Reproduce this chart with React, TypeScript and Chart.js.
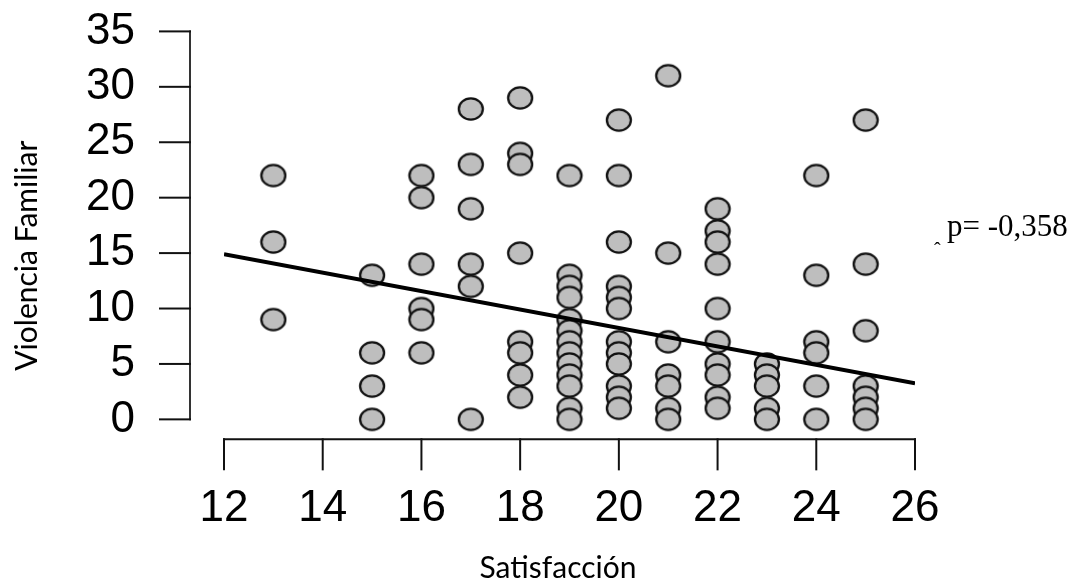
import React, { useEffect, useRef } from 'react';
import { Chart, registerables } from 'chart.js';

Chart.register(...registerables);

// Satisfacción (x) columns and the Violencia Familiar values in each column
const satisfaccion = [13, 15, 16, 17, 18, 19, 20, 21, 22, 23, 24, 25];
const violencia13 = [22, 16, 9];
const violencia15 = [13, 6, 3, 0];
const violencia16 = [22, 20, 14, 10, 9, 6];
const violencia17 = [28, 23, 19, 14, 12, 0];
const violencia18 = [29, 24, 23, 15, 7, 6, 4, 2];
const violencia19 = [22, 13, 12, 11, 9, 8, 7, 6, 5, 4, 3, 1, 0];
const violencia20 = [27, 22, 16, 12, 11, 10, 7, 6, 5, 3, 2, 1];
const violencia21 = [31, 15, 7, 4, 3, 1, 0];
const violencia22 = [19, 17, 16, 14, 10, 7, 5, 4, 2, 1];
const violencia23 = [5, 4, 3, 1, 0];
const violencia24 = [22, 13, 7, 6, 3, 0];
const violencia25 = [27, 14, 8, 3, 2, 1, 0];
const violencia = [
  violencia13, violencia15, violencia16, violencia17, violencia18, violencia19,
  violencia20, violencia21, violencia22, violencia23, violencia24, violencia25,
];

// Regression line end points
const fitX = [12, 26];
const fitY = [14.9, 3.25];

// Axis ticks
const xTicks = [12, 14, 16, 18, 20, 22, 24, 26];
const yTicks = [0, 5, 10, 15, 20, 25, 30, 35];

const xTitle = 'Satisfacción';
const yTitle = 'Violencia Familiar';
const annotation = 'p= -0,358';
const annotationMark = 'ˆ';

export default function App() {
  const ref = useRef<HTMLCanvasElement>(null);

  useEffect(() => {
    document.body.style.margin = '0';
    const canvas = ref.current;
    if (!canvas) return;

    const dot = document.createElement('canvas');
    dot.width = 28;
    dot.height = 26;
    const g = dot.getContext('2d')!;
    g.beginPath();
    g.ellipse(14, 13, 12, 10.6, 0, 0, Math.PI * 2);
    g.fillStyle = '#BEBEBE';
    g.fill();
    g.lineWidth = 2.3;
    g.strokeStyle = '#111';
    g.stroke();

    const points = satisfaccion.flatMap((x, i) => violencia[i].map((y) => ({ x, y })));
    const fitLine = fitX.map((x, i) => ({ x, y: fitY[i] }));

    const rAxes = {
      id: 'rAxes',
      afterDraw(chart: any) {
        const { ctx, chartArea } = chart;
        const xs = chart.scales.x;
        const ys = chart.scales.y;
        const y0 = ys.getPixelForValue(yTicks[0]);
        const yTop = ys.getPixelForValue(yTicks[yTicks.length - 1]);
        const axisX = xs.getPixelForValue(xTicks[0]) - 34;
        const axisY = y0 + 20;
        ctx.save();
        ctx.lineCap = 'square';
        ctx.strokeStyle = '#333';
        ctx.lineWidth = 2;
        ctx.beginPath();
        ctx.moveTo(axisX, y0);
        ctx.lineTo(axisX, yTop);
        ctx.stroke();
        ctx.strokeStyle = '#111';
        yTicks.forEach((v) => {
          const py = ys.getPixelForValue(v);
          ctx.beginPath();
          ctx.moveTo(axisX - 30, py);
          ctx.lineTo(axisX, py);
          ctx.stroke();
        });
        ctx.beginPath();
        ctx.moveTo(xs.getPixelForValue(xTicks[0]), axisY);
        ctx.lineTo(xs.getPixelForValue(xTicks[xTicks.length - 1]), axisY);
        ctx.stroke();
        xTicks.forEach((v) => {
          const px = xs.getPixelForValue(v);
          ctx.beginPath();
          ctx.moveTo(px, axisY);
          ctx.lineTo(px, axisY + 30);
          ctx.stroke();
        });
        ctx.fillStyle = '#000';
        // x-axis title, centred on the full plot region as in the source
        ctx.textAlign = 'center';
        ctx.textBaseline = 'alphabetic';
        ctx.font = '30px Lato, sans-serif';
        ctx.fillText(xTitle, chartArea.left + 334, 578);
        // annotation
        ctx.textAlign = 'left';
        ctx.font = '31px "Liberation Serif", "Times New Roman", serif';
        ctx.fillText(annotation, chartArea.right + 32, 236);
        ctx.font = '20px "Liberation Serif", "Times New Roman", serif';
        ctx.fillText(annotationMark, chartArea.right + 19, 257);
        ctx.restore();
      },
    };

    const chart = new Chart(canvas, {
      type: 'scatter',
      data: {
        datasets: [
          {
            type: 'line',
            data: fitLine,
            borderColor: '#000',
            borderWidth: 4,
            pointRadius: 0,
            fill: false,
            order: 1,
          } as any,
          {
            type: 'scatter',
            data: points,
            pointStyle: dot as any,
            pointRadius: 13,
            order: 2,
          },
        ],
      },
      options: {
        responsive: false,
        animation: false,
        events: [],
        layout: { padding: { left: 0, top: 31, right: 169, bottom: 0 } },
        plugins: { legend: { display: false }, tooltip: { enabled: false } },
        scales: {
          x: {
            type: 'linear',
            min: 12,
            max: 26,
            afterBuildTicks: (s: any) => {
              s.ticks = xTicks.map((value) => ({ value }));
            },
            afterFit: (s: any) => {
              s.height = 105;
            },
            grid: { display: false },
            border: { display: false },
            ticks: {
              autoSkip: false,
              maxRotation: 0,
              padding: -6,
              color: '#000',
              font: { family: '"Liberation Sans", Arial, sans-serif', size: 44 },
            },
            title: { display: false, text: xTitle },
          },
          y: {
            type: 'linear',
            min: -5.47,
            max: 35,
            afterBuildTicks: (s: any) => {
              s.ticks = yTicks.map((value) => ({ value }));
            },
            afterFit: (s: any) => {
              s.width = 224;
            },
            grid: {
              display: true,
              drawOnChartArea: false,
              drawTicks: true,
              tickLength: 84,
              color: 'rgba(0,0,0,0)',
            },
            border: { display: false },
            ticks: {
              autoSkip: false,
              padding: 5,
              color: '#000',
              font: { family: '"Liberation Sans", Arial, sans-serif', size: 44 },
            },
            title: {
              display: true,
              text: yTitle,
              color: '#000',
              font: { family: 'Lato, sans-serif', size: 30 },
              padding: { top: 9, bottom: 0 },
            },
          },
        },
      },
      plugins: [rAxes],
    });

    return () => chart.destroy();
  }, []);

  return (
    <div style={{ width: 1084, height: 585 }}>
      <canvas ref={ref} width={1084} height={585} style={{ display: 'block' }} />
    </div>
  );
}
